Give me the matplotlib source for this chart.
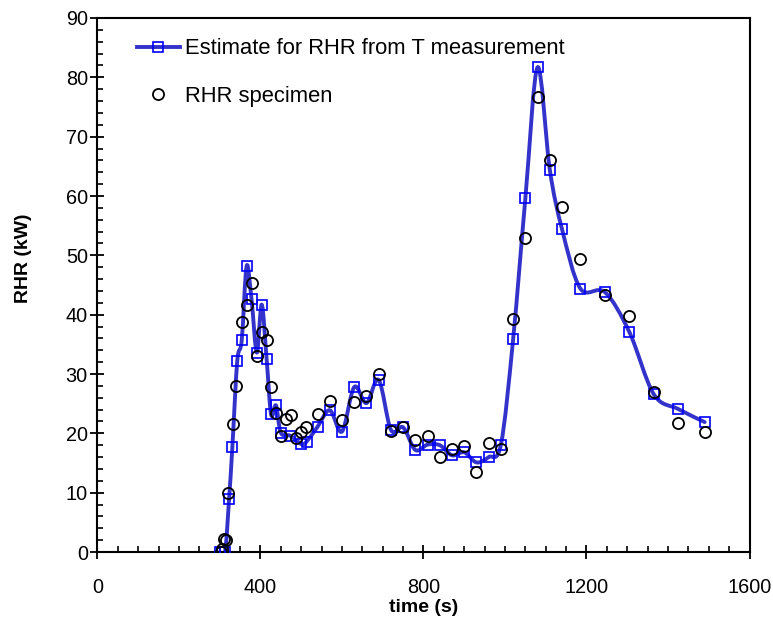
import numpy as np
import matplotlib
matplotlib.use('Agg')
import matplotlib.pyplot as plt
from matplotlib.path import Path
from matplotlib.patches import PathPatch
from matplotlib.lines import Line2D
from matplotlib.ticker import MultipleLocator

plt.rcParams['font.family'] = ['Liberation Sans', 'DejaVu Sans']

# estimate for RHR from temperature measurement (squares + smoothed line)
t_est = [300, 313, 323, 331, 343, 354, 366, 378, 391, 403, 415, 426, 438, 450,
         473, 500, 513, 540, 570, 600, 630, 660, 690, 720, 750, 780, 810, 840,
         870, 900, 930, 960, 990, 1020, 1050, 1080, 1110, 1140, 1185, 1245,
         1305, 1365, 1425, 1490]
rhr_est = [0, 0, 9.0, 17.7, 32.2, 35.7, 48.2, 42.6, 33.6, 41.7, 32.6, 23.2, 24.7,
           20.1, 19.6, 18.2, 18.6, 21.1, 23.9, 20.3, 27.8, 25.1, 29.0, 20.6, 21.0,
           17.2, 18.1, 18.0, 16.3, 16.8, 15.1, 16.0, 18.1, 35.9, 59.6, 81.7, 64.4,
           54.4, 44.4, 43.8, 37.1, 26.6, 24.1, 21.9]

# measured RHR of the specimen (circles)
t_spec = [303, 306, 310, 315, 321, 333, 341, 354, 366, 378, 391, 404, 415, 427,
          438, 450, 462, 474, 487, 499, 511, 541, 570, 600, 630, 660, 690, 720,
          750, 780, 810, 840, 870, 900, 930, 960, 990, 1020, 1050, 1080, 1110,
          1140, 1185, 1245, 1305, 1365, 1425, 1490]
rhr_spec = [0, 0.5, 2.2, 2.0, 9.9, 21.6, 28.0, 38.7, 41.7, 45.3, 33.0, 37.0, 35.8,
            27.8, 23.5, 19.6, 22.5, 23.1, 19.2, 20.3, 21.0, 23.2, 25.5, 22.2, 25.2,
            26.3, 30.0, 20.4, 21.1, 18.9, 19.6, 16.0, 17.3, 17.9, 13.5, 18.3, 17.4,
            39.2, 52.9, 76.7, 66.1, 58.2, 49.4, 43.3, 39.8, 27.0, 21.7, 20.3]

LINE_C = '#3333CC'
SQ_C = '#0000FF'


def smooth_path(x, y):
    # excel style smoothed line: cubic bezier through every point
    p = np.column_stack([x, y]).astype(float)
    pp = np.vstack([p[0], p, p[-1]])
    verts = [p[0]]
    codes = [Path.MOVETO]
    for i in range(1, len(pp) - 2):
        c1 = pp[i] + (pp[i + 1] - pp[i - 1]) / 6.0
        c2 = pp[i + 1] - (pp[i + 2] - pp[i]) / 6.0
        verts += [c1, c2, pp[i + 1]]
        codes += [Path.CURVE4] * 3
    return Path(verts, codes)


fig = plt.figure(figsize=(7.73, 6.27), dpi=100)
ax = fig.add_axes([0.1261, 0.1196, 0.8435, 0.8517])

ax.add_patch(PathPatch(smooth_path(t_est, rhr_est), facecolor='none',
                       edgecolor=LINE_C, lw=2.8, capstyle='round',
                       joinstyle='round', zorder=2))
ax.plot(t_est, rhr_est, ls='none', marker='s', ms=7.2, mfc='none', mec=SQ_C,
        mew=1.2, zorder=3)
ax.plot(t_spec, rhr_spec, ls='none', marker='o', ms=8, mfc='none', mec='black',
        mew=1.3, zorder=4)

ax.set_xlim(0, 1600)
ax.set_ylim(0, 90)
ax.xaxis.set_major_locator(MultipleLocator(400))
ax.xaxis.set_minor_locator(MultipleLocator(50))
ax.yaxis.set_major_locator(MultipleLocator(10))
ax.yaxis.set_minor_locator(MultipleLocator(2))
ax.tick_params(which='major', direction='inout', length=10, width=1.3,
               labelsize=14.3, top=False, right=False)
ax.tick_params(which='minor', direction='in', length=4.5, width=1.2,
               top=False, right=False)
ax.tick_params(axis='x', which='major', pad=14)
ax.tick_params(axis='y', which='major', pad=2)
for s in ax.spines.values():
    s.set_linewidth(1.5)

ax.set_xlabel('time (s)', fontsize=14, fontweight='bold', labelpad=1)
ax.set_ylabel('RHR (kW)', fontsize=14, fontweight='bold')
ax.yaxis.set_label_coords(-0.10, 0.55)

handles = [Line2D([], [], color=LINE_C, lw=2.8, marker='s', ms=7.2, mfc='none',
                  mec=SQ_C, mew=1.2),
           Line2D([], [], ls='none', marker='o', ms=8, mfc='none', mec='black',
                  mew=1.3)]
ax.legend(handles, ['Estimate for RHR from T measurement', 'RHR specimen'],
          loc='upper left', bbox_to_anchor=(0.033, 0.995), frameon=False,
          fontsize=15.8, handlelength=2.0, handletextpad=0.2, labelspacing=1.2,
          borderpad=0.3)

fig.savefig('out.png', dpi=100)
